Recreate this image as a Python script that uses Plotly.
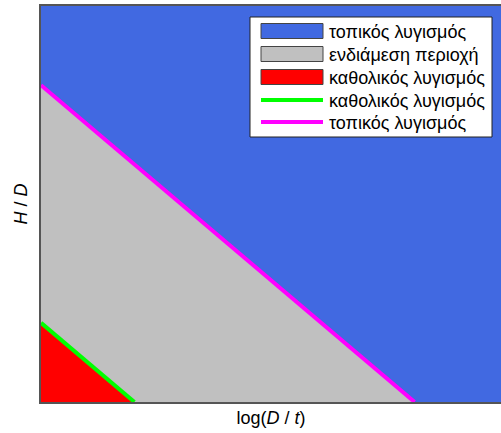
import plotly.graph_objects as go

# Region boundaries (normalised axes: log(D/t) on x, H/D on y)
x_max = 0.985
y_max = 1.0
local_limit_x = [0.0, 0.8]      # magenta boundary: local buckling
local_limit_y = [0.8, 0.0]
global_limit_x = [0.0, 0.2]     # green boundary: global buckling
global_limit_y = [0.2, 0.0]

region_names = ["τοπικός λυγισμός", "ενδιάμεση περιοχή", "καθολικός λυγισμός"]
line_names = ["καθολικός λυγισμός", "τοπικός λυγισμός"]
region_colors = ["#4169E1", "#C0C0C0", "#FF0000"]
line_colors = ["#00FF00", "#FF00FF"]

fig = go.Figure()

# blue region (above magenta)
fig.add_trace(go.Scatter(
    x=[local_limit_x[0], 0, x_max, x_max, local_limit_x[1], local_limit_x[0]],
    y=[local_limit_y[0], y_max, y_max, 0, local_limit_y[1], local_limit_y[0]],
    fill="toself", fillcolor=region_colors[0], mode="none", showlegend=False, hoverinfo="skip"))
# gray region
fig.add_trace(go.Scatter(
    x=[0, local_limit_x[0], local_limit_x[1], 0],
    y=[0, local_limit_y[0], local_limit_y[1], 0],
    fill="toself", fillcolor=region_colors[1], mode="none", showlegend=False, hoverinfo="skip"))
# red region
fig.add_trace(go.Scatter(
    x=[0, global_limit_x[0], global_limit_x[1], 0],
    y=[0, global_limit_y[0], global_limit_y[1], 0],
    fill="toself", fillcolor=region_colors[2], mode="none", showlegend=False, hoverinfo="skip"))
# boundary lines
fig.add_trace(go.Scatter(x=global_limit_x, y=global_limit_y, mode="lines",
                         line=dict(color=line_colors[0], width=4), showlegend=False, hoverinfo="skip"))
fig.add_trace(go.Scatter(x=local_limit_x, y=local_limit_y, mode="lines",
                         line=dict(color=line_colors[1], width=4), showlegend=False, hoverinfo="skip"))

W, H = 501, 433
ML, MR, MT, MB = 41, 0, 6, 31
PW, PH = W - ML - MR, H - MT - MB

def px(x):
    return (x - ML) / PW

def py(y):
    return (H - MB - y) / PH

shapes = []
annotations = []
# legend box
shapes.append(dict(type="rect", xref="paper", yref="paper",
                   x0=px(250), x1=px(492), y0=py(137), y1=py(17),
                   fillcolor="white", line=dict(color="#222222", width=1), layer="above"))
row_y = [31, 54, 77, 100, 122]
items = [(region_names[0], "rect", region_colors[0]),
         (region_names[1], "rect", region_colors[1]),
         (region_names[2], "rect", region_colors[2]),
         (line_names[0], "line", line_colors[0]),
         (line_names[1], "line", line_colors[1])]
for (name, kind, col), yy in zip(items, row_y):
    if kind == "rect":
        shapes.append(dict(type="rect", xref="paper", yref="paper",
                           x0=px(261), x1=px(323), y0=py(yy + 7.5), y1=py(yy - 7.5),
                           fillcolor=col, line=dict(color="#444444", width=1), layer="above"))
    else:
        shapes.append(dict(type="line", xref="paper", yref="paper",
                           x0=px(261), x1=px(323), y0=py(yy), y1=py(yy),
                           line=dict(color=col, width=4), layer="above"))
    annotations.append(dict(xref="paper", yref="paper", x=px(327), y=py(yy + 0.5),
                            text=name, showarrow=False, xanchor="left", yanchor="middle",
                            font=dict(size=18, color="black")))

fig.update_layout(
    width=W, height=H,
    margin=dict(l=ML, r=MR, t=MT, b=MB, pad=0),
    paper_bgcolor="white", plot_bgcolor=region_colors[0],
    font=dict(family="Liberation Sans, Arial, sans-serif", size=18, color="black"),
    showlegend=False,
    shapes=shapes, annotations=annotations,
    xaxis=dict(range=[0, x_max], showgrid=False, zeroline=False, showticklabels=False,
               ticks="", showline=True, linecolor="#555555", linewidth=1.5, mirror=True,
               title=dict(text="log(<i>D</i> / <i>t</i>)", standoff=9, font=dict(size=18))),
    yaxis=dict(range=[0, y_max], showgrid=False, zeroline=False, showticklabels=False,
               ticks="", showline=True, linecolor="#555555", linewidth=1.5, mirror=False,
               title=dict(text="<i>H</i> / <i>D</i>", standoff=7, font=dict(size=18))),
)

fig.write_html("out.html", config={"displayModeBar": False},
               post_script="document.body.style.margin='0';document.body.style.overflow='hidden';")
